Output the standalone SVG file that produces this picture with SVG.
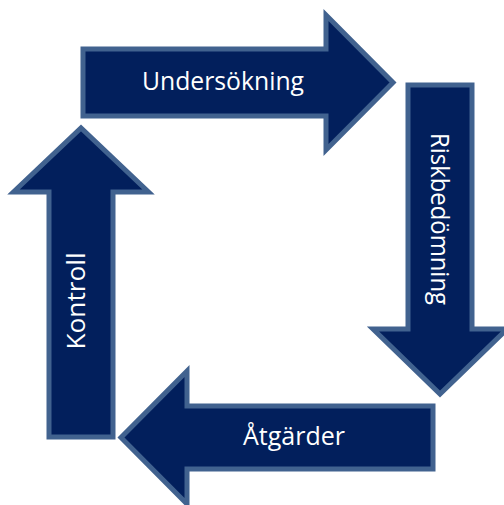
<svg xmlns="http://www.w3.org/2000/svg" width="504" height="505" viewBox="0 0 504 505">
  <style>
    .arrow { fill: #021f5c; stroke: #41628f; stroke-width: 5; stroke-linejoin: miter; }
    .label { fill: #ffffff; font-family: "Open Sans", "Liberation Sans", sans-serif; font-size: 25px; text-anchor: middle; }
  </style>
  <rect width="504" height="505" fill="#ffffff"/>
  <g id="connectors"/>
  <g id="undersokning">
    <path class="arrow" d="M83,49 H326 V15 L393,82.5 L326,150 V116 H83 Z"/>
    <text class="label" x="223" y="89.5" textLength="162" lengthAdjust="spacingAndGlyphs">Undersökning</text>
  </g>
  <g id="riskbedomning">
    <path class="arrow" d="M408,85 H472 V329 H507 L440,394 L373,329 H408 Z"/>
    <text class="label" transform="translate(431,219) rotate(90)" x="0" y="0" textLength="172" lengthAdjust="spacingAndGlyphs">Riskbedömning</text>
  </g>
  <g id="atgarder">
    <path class="arrow" d="M433,406 V469 H187 V504 L121,437.5 L187,371 V406 Z"/>
    <text class="label" x="294" y="444.5" textLength="102" lengthAdjust="spacingAndGlyphs">Åtgärder</text>
  </g>
  <g id="kontroll">
    <path class="arrow" d="M49,437 V192 H13.5 L81,128 L148.5,192 H113 V437 Z"/>
    <text class="label" transform="translate(85,301) rotate(-90)" x="0" y="0" textLength="97" lengthAdjust="spacingAndGlyphs">Kontroll</text>
  </g>
</svg>
